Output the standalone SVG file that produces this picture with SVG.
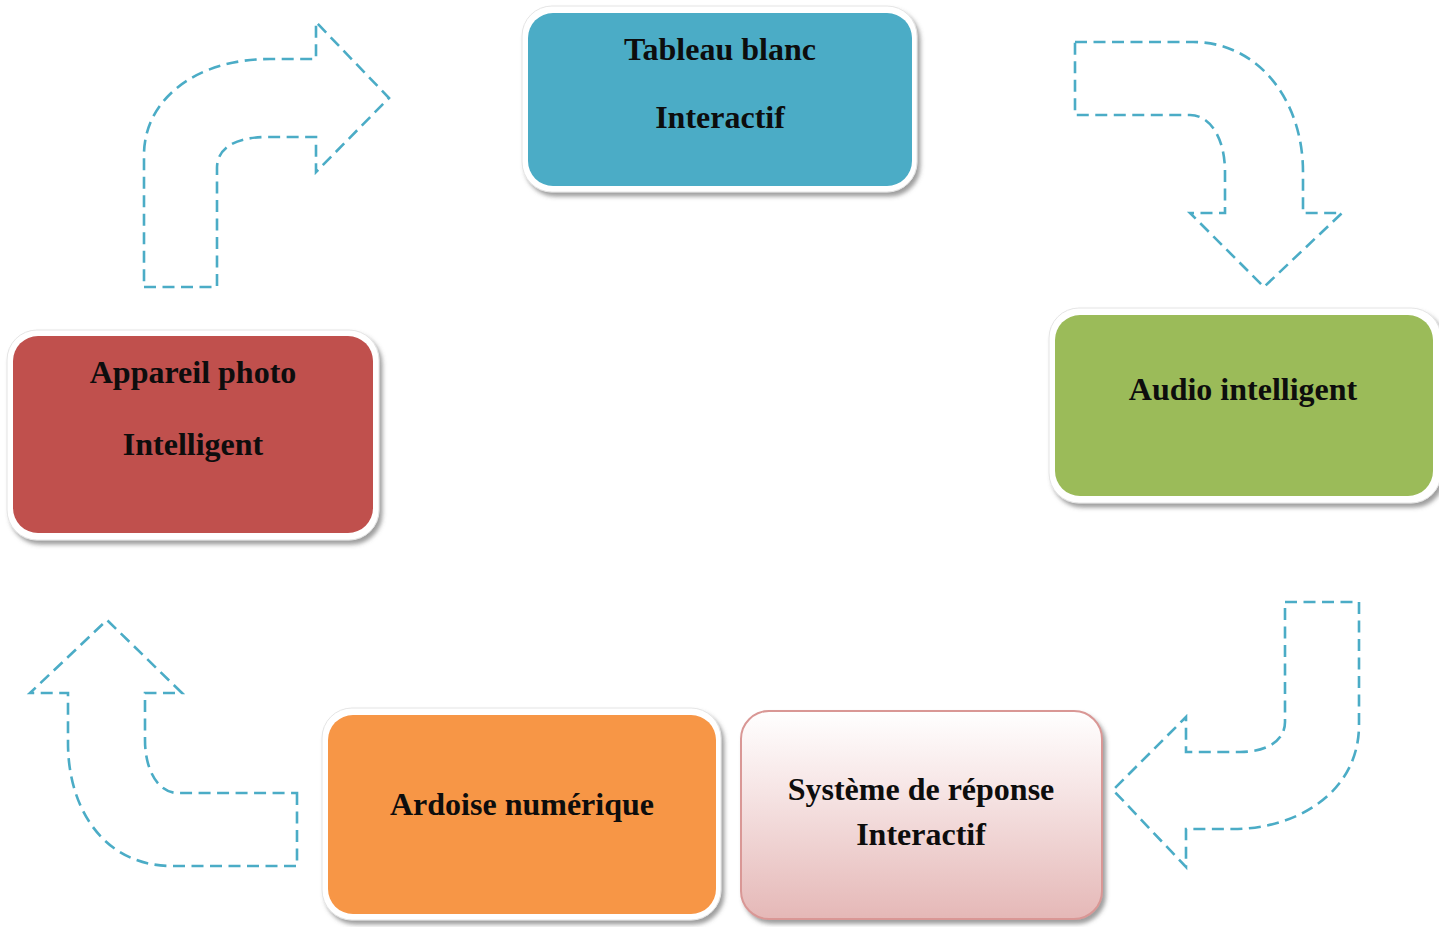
<svg xmlns="http://www.w3.org/2000/svg" width="1439" height="927" viewBox="0 0 1439 927">
  <defs>
    <filter id="shadow" x="-10%" y="-10%" width="120%" height="125%">
      <feDropShadow dx="3" dy="4" stdDeviation="2" flood-color="#5e5e5e" flood-opacity="0.6"/>
    </filter>
    <linearGradient id="pinkFill" x1="0" y1="0" x2="0" y2="1">
      <stop offset="0" stop-color="#ffffff"/>
      <stop offset="0.35" stop-color="#f7e7e7"/>
      <stop offset="1" stop-color="#e5b8b7"/>
    </linearGradient>
    <style>
      .frame { fill: #ffffff; stroke: #e4e4e4; stroke-width: 1; filter: url(#shadow); }
      .label { font-family: "Liberation Serif", "Times New Roman", serif; font-weight: bold; font-size: 32px; fill: #0d0d0d; text-anchor: middle; }
      .arrow { fill: none; stroke: #4bacc6; stroke-width: 2.6; stroke-dasharray: 12 6.5; stroke-linejoin: miter; }
    </style>
  </defs>

  <rect width="1439" height="927" fill="#ffffff"/>

  <!-- curved dashed arrows between the nodes -->
  <g id="connectors">
    <path class="arrow" d="M144,287 L217,287 L217,168 C217,148 235,137 268,137 L316,137 L316,172 L389,98 L316,22 L316,59 L270,59 C195,59 144,100 144,155 Z"/>
    <path class="arrow" d="M1075,42 L1193,42 C1258,42 1303,100 1303,172 L1303,213 L1342,213 L1264,287 L1190,213 L1225,213 L1225,172 C1225,138 1210,115 1190,115 L1075,115 Z"/>
    <path class="arrow" d="M1285,602 L1359,602 L1359,725 C1359,790 1300,829 1233,829 L1186,829 L1186,867 L1113,790 L1186,717 L1186,752 L1240,752 C1268,752 1285,740 1285,722 Z"/>
    <path class="arrow" d="M297,793 L297,866 L172,866 C105,866 68,810 68,743 L68,693 L30,693 L107,620 L182,693 L145,693 L145,740 C145,770 158,793 178,793 Z"/>
  </g>

  <g id="node-tableau">
    <rect class="frame" x="522" y="6" width="395" height="186" rx="30"/>
    <rect x="528" y="13" width="384" height="173" rx="25" fill="#4bacc6"/>
    <text class="label" x="720" y="60">Tableau blanc</text>
    <text class="label" x="720" y="128">Interactif</text>
  </g>

  <g id="node-audio">
    <rect class="frame" x="1049" y="308" width="392" height="195" rx="30"/>
    <rect x="1055" y="315" width="378" height="181" rx="25" fill="#9bbb59"/>
    <text class="label" x="1243" y="400">Audio intelligent</text>
  </g>

  <g id="node-appareil">
    <rect class="frame" x="7" y="330" width="372" height="210" rx="30"/>
    <rect x="13" y="336" width="360" height="197" rx="25" fill="#c0504d"/>
    <text class="label" x="193" y="383">Appareil photo</text>
    <text class="label" x="193" y="455">Intelligent</text>
  </g>

  <g id="node-ardoise">
    <rect class="frame" x="322" y="708" width="399" height="212" rx="30"/>
    <rect x="328" y="715" width="388" height="199" rx="25" fill="#f79646"/>
    <text class="label" x="522" y="815">Ardoise numérique</text>
  </g>

  <g id="node-systeme">
    <rect x="741" y="711" width="361" height="208" rx="28" fill="url(#pinkFill)" stroke="#d99795" stroke-width="2" filter="url(#shadow)"/>
    <text class="label" x="921" y="800">Système de réponse</text>
    <text class="label" x="921" y="845">Interactif</text>
  </g>
</svg>
